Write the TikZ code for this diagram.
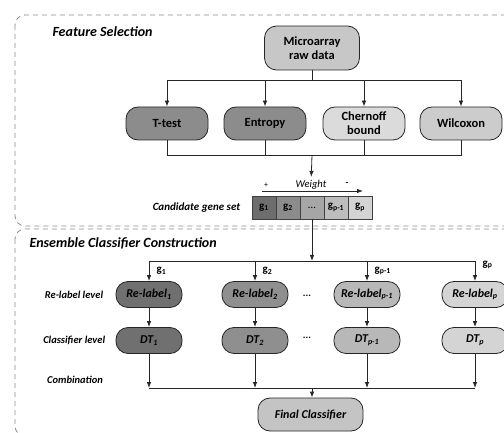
\documentclass[tikz,border=0pt]{standalone}
\usepackage{fontspec}
\setmainfont{Carlito}
\usepackage{tikz}
\usetikzlibrary{shapes,arrows.meta,positioning}
\tikzset{
    method/.style = {rectangle, rounded corners=12pt, minimum width=82pt, minimum height=33pt, text centered, align=center, draw=black!85, line width=0.8pt, font=\fontsize{12.5}{14}\selectfont\bfseries},
    genecell/.style = {rectangle, minimum width=24pt, minimum height=23pt, inner sep=0pt, draw=black!75, line width=0.6pt, font=\fontsize{11}{12}\selectfont},
    learner/.style = {rectangle, rounded corners=12pt, minimum width=66pt, minimum height=26pt, text centered, draw=black!85, line width=0.8pt, font=\fontsize{12}{13}\selectfont\bfseries\itshape},
    levellabel/.style = {font=\fontsize{10.5}{12}\selectfont\bfseries\itshape},
    phase/.style = {draw=black!45, line width=0.8pt, dash pattern=on 5pt off 4pt, rounded corners=10pt},
    phasetitle/.style = {anchor=west, font=\fontsize{14}{16}\selectfont\bfseries\itshape},
    genelabel/.style = {font=\fontsize{11}{12}\selectfont},
    link/.style = {draw=black!85, line width=0.8pt}
}
\newcommand{\gene}[1]{\textbf{g}\textsubscript{\textbf{#1}}}

\begin{document}
\begin{tikzpicture}[
    x=1pt, y=-1pt,
    node distance=98pt,
    >={Latex[length=6pt,width=4.5pt]}
]
    \useasboundingbox (0,0) rectangle (504,433);

    % Phases
    \draw [phase] (15,15) rectangle (520,226);
    \draw [phase] (15,229) rectangle (520,436);
    \node [phasetitle] (fstitle) at (49,32) {Feature Selection};
    \node [phasetitle] (ectitle) at (26,243) {Ensemble Classifier Construction};

    % Feature selection
    \node [method, fill=black!22, minimum width=95pt, minimum height=44pt] (raw) at (312,48) {Microarray\\raw data};
    \node [method, fill=black!45] (ttest) at (167,123.5) {T-test};
    \node [method, fill=black!45, right of=ttest] (entropy) {Entropy};
    \node [method, fill=black!14, right of=entropy, xshift=1pt] (chernoff) {Chernoff\\bound};
    \node [method, fill=black!20, right of=chernoff, xshift=-1pt] (wilcoxon) {Wilcoxon};

    \coordinate (split) at (312,80);
    \draw [link] (raw) -- (split);
    \draw [link, ->] (split) -| (ttest);
    \draw [link, ->] (split) -| (entropy);
    \draw [link, ->] (split) -| (chernoff);
    \draw [link, ->] (split) -| (wilcoxon);

    \coordinate (merge) at (312,155);
    \draw [link] (ttest) |- (merge);
    \draw [link] (entropy) |- (merge);
    \draw [link] (chernoff) |- (merge);
    \draw [link] (wilcoxon) |- (merge);

    % Candidate gene set
    \node [font=\fontsize{10.5}{12}\selectfont\itshape] (weight) at (311,185) {Weight};
    \draw [link, ->] (merge) -- (weight);
    \node [font=\fontsize{8}{9}\selectfont] (plus) at (266,185) {+};
    \node [font=\fontsize{9}{9}\selectfont\bfseries] (minus) at (347,184) {-};
    \coordinate (wfrom) at (262,191);
    \coordinate (wto) at (363,191);
    \draw [link, ->] (wfrom) -- (wto);

    \node [genecell, fill=black!57] (g1) at (264,207.5) {\gene{1}};
    \node [genecell, fill=black!45, node distance=24pt, right of=g1] (g2) {\gene{2}};
    \node [genecell, fill=black!35, node distance=24pt, right of=g2] (gdots) {\dots};
    \node [genecell, fill=black!26, node distance=24pt, right of=gdots] (gq) {\gene{p-1}};
    \node [genecell, fill=black!17, node distance=24pt, right of=gq] (gp) {\gene{p}};
    \node [levellabel, font=\fontsize{11}{12}\selectfont\bfseries\itshape, left=8pt of g1] (candidate) {Candidate gene set};

    % Ensemble classifier construction
    \coordinate (split2) at (312,261);
    \draw [link, ->] (gdots) -- (split2);

    \node [learner, fill=black!56] (rl1) at (149,294.5) {Re-label\textsubscript{1}};
    \node [learner, fill=black!44, node distance=106pt, right of=rl1] (rl2) {Re-label\textsubscript{2}};
    \node [learner, fill=black!28, node distance=112pt, right of=rl2] (rlq) {Re-label\textsubscript{p-1}};
    \node [learner, fill=black!17, node distance=108pt, right of=rlq] (rlp) {Re-label\textsubscript{p}};

    \draw [link, ->] (split2) -| node [genelabel, pos=0.75, right=4pt] {\gene{1}} (rl1);
    \draw [link, ->] (split2) -| node [genelabel, pos=0.75, right=4pt] {\gene{2}} (rl2);
    \draw [link, ->] (split2) -| node [genelabel, pos=0.75, right=4pt] {\gene{p-1}} (rlq);
    \draw [link, ->] (split2) -| node [genelabel, pos=0.6, right=4pt] {\gene{p}} (rlp);

    \node [learner, fill=black!56, node distance=46pt, below of=rl1] (dt1) {DT\textsubscript{1}};
    \node [learner, fill=black!44, node distance=46pt, below of=rl2] (dt2) {DT\textsubscript{2}};
    \node [learner, fill=black!28, node distance=46pt, below of=rlq] (dtq) {DT\textsubscript{p-1}};
    \node [learner, fill=black!17, node distance=46pt, below of=rlp] (dtp) {DT\textsubscript{p}};

    \draw [link, ->] (rl1) -- (dt1);
    \draw [link, ->] (rl2) -- (dt2);
    \draw [link, ->] (rlq) -- (dtq);
    \draw [link, ->] (rlp) -- (dtp);

    \node [font=\bfseries] (rldots) at (307,296) {...};
    \node [font=\bfseries] (dtdots) at (307,338) {...};

    \node [levellabel, left=9pt of rl1] (rllevel) {Re-label level};
    \node [levellabel, left=7pt of dt1] (dtlevel) {Classifier level};
    \node [levellabel] (combolevel) at (75,380) {Combination};

    % Combination
    \coordinate (merge2) at (312,388);
    \draw [link] (dt1 |- merge2) -- (dtp |- merge2);
    \draw [link, ->] (dt1) -- (dt1 |- merge2);
    \draw [link, ->] (dt2) -- (dt2 |- merge2);
    \draw [link, ->] (dtq) -- (dtq |- merge2);
    \draw [link, ->] (dtp) -- (dtp |- merge2);

    \node [method, fill=black!23, minimum width=105pt, font=\fontsize{12}{13}\selectfont\bfseries\itshape] (final) at (310.5,414.5) {Final Classifier};
    \draw [link, ->] (merge2) -- (merge2 |- final.north);
\end{tikzpicture}
\end{document}
